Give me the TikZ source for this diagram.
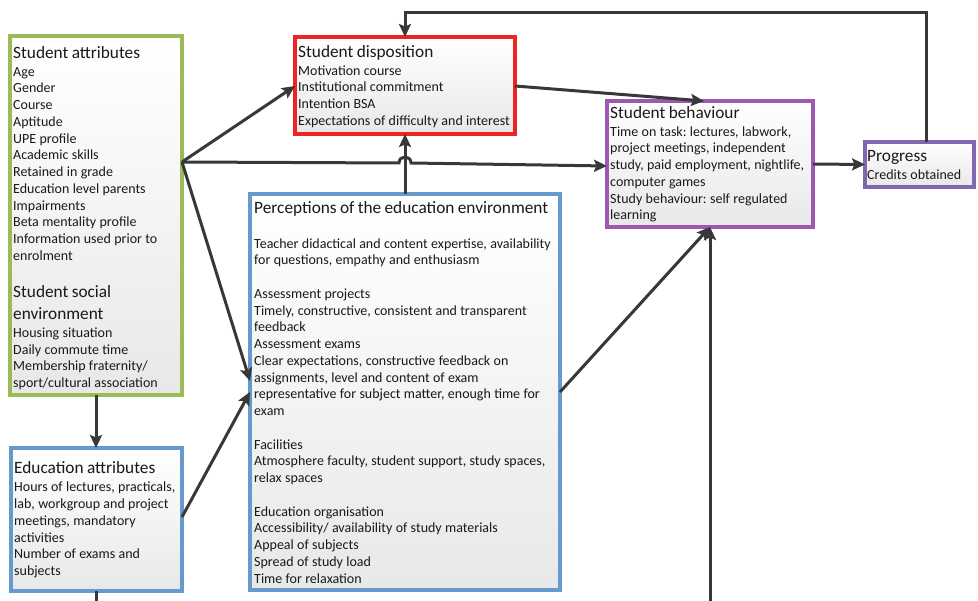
\documentclass[tikz,border=0pt]{standalone}
\usepackage{fontspec}
\setmainfont{Carlito}
\usetikzlibrary{arrows.meta,shadows,calc}

\definecolor{linegray}{HTML}{383838}
\definecolor{bxgreen}{HTML}{9BBB59}
\definecolor{bxred}{HTML}{EE2424}
\definecolor{bxpurple}{HTML}{9E58B4}
\definecolor{bxviolet}{HTML}{8068B0}
\definecolor{bxblue}{HTML}{6699CC}

\newcommand{\ttl}{\fontsize{17.3}{22}\selectfont}
\newcommand{\bdy}{\fontsize{14}{16.75}\selectfont}
\newcommand{\topstrut}{\rule{0pt}{14pt}}

\tikzset{
  panel/.style={draw=#1, line width=3.4pt, rectangle, anchor=north west,
    inner sep=0pt, outer sep=0pt, top color=white, bottom color=black!9,
    drop shadow={opacity=0.18, shadow xshift=1.5pt, shadow yshift=-1.5pt}},
  label/.style={anchor=north west, inner sep=0pt, align=left,
    text width=#1, text=black!90, execute at begin node=\frenchspacing},
  conn/.style={draw=linegray, line width=3pt,
    -{Stealth[length=13pt,width=12pt,inset=2.5pt]}},
  plain/.style={draw=linegray, line width=3pt},
}

\begin{document}
\begin{tikzpicture}[x=1pt,y=-1pt]
\useasboundingbox (0,0) rectangle (978,601);

% boxes
\node[panel=bxgreen,  minimum width=172pt, minimum height=359pt] (attr)   at (10,36)  {};
\node[panel=bxred,    minimum width=220pt, minimum height=97pt]  (disp)   at (295,37) {};
\node[panel=bxpurple, minimum width=206pt, minimum height=126pt] (behav)  at (607,101) {};
\node[panel=bxviolet, minimum width=109pt, minimum height=45pt]  (prog)   at (865,142) {};
\node[panel=bxblue,   minimum width=171pt, minimum height=143pt] (eduatt) at (11,448) {};
\node[panel=bxblue,   minimum width=310pt, minimum height=396pt] (perc)   at (250,194) {};

% box texts
\node[label=200pt] (attrtxt) at (13,44) {%
  {\ttl\topstrut Student attributes\par}\vspace{1.2pt}
  {\bdy Age\\Gender\\Course\\Aptitude\\UPE profile\\Academic skills\\Retained in grade\\
   Education level parents\\Impairments\\Beta mentality profile\\
   Information used prior to\\enrolment\par}\vspace{15pt}
  {\ttl Student social\\environment\par}\vspace{1.2pt}
  {\bdy Housing situation\\Daily commute time\\Membership fraternity/\\
   sport/cultural association\par}};

\node[label=240pt] (disptxt) at (298,43) {%
  {\ttl\topstrut Student disposition\par}\vspace{1.2pt}
  {\bdy Motivation course\\Institutional commitment\\Intention BSA\\
   Expectations of difficulty and interest\par}};

\node[label=230pt] (behavtxt) at (610,104) {%
  {\ttl\topstrut Student behaviour\par}\vspace{1.2pt}
  {\bdy Time on task: lectures, labwork,\\project meetings, independent\\
   study, paid employment, nightlife,\\computer games\\
   Study behaviour: self regulated\\learning\par}};

\node[label=130pt] (progtxt) at (867,147) {%
  {\ttl\topstrut Progress\par}\vspace{1.2pt}
  {\bdy Credits obtained\par}};

\node[label=200pt] (eduatttxt) at (14,459) {%
  {\ttl\topstrut Education attributes\par}\vspace{2pt}
  {\bdy Hours of lectures, practicals,\\lab, workgroup and project\\
   meetings, mandatory\\activities\\Number of exams and\\subjects\par}};

\node[label=340pt] (perctxt) at (254,199) {%
  {\ttl\topstrut Perceptions of the education environment\par}\vspace{18.2pt}
  {\bdy Teacher didactical and content expertise, availability\\
   for questions, empathy and enthusiasm\\[16.75pt]
   Assessment projects\\Timely, constructive, consistent and transparent\\feedback\\
   Assessment exams\\Clear expectations, constructive feedback on\\
   assignments, level and content of exam\\
   representative for subject matter, enough time for\\exam\\[16.75pt]
   Facilities\\Atmosphere faculty, student support, study spaces,\\relax spaces\\[16.75pt]
   Education organisation\\Accessibility/ availability of study materials\\
   Appeal of subjects\\Spread of study load\\Time for relaxation\par}};

% helper points
\coordinate (hub) at ([yshift=-126pt]attr.north east);
\coordinate (hop) at (perc.north |- 0,163);
\coordinate (fbR) at (926,13);
\coordinate (fbL) at (disp.north |- fbR);
\coordinate (bottomedge) at (0,601);

% connectors
\draw[conn] (hub) -- ([yshift=-49pt]disp.north west);
\draw[conn] (hub) -- ($(hop)+(-6,0)$)
  .. controls +(0,-8) and +(0,-8) .. ($(hop)+(6,0)$)
  -- ([yshift=-65pt]behav.north west);
\draw[conn] (hub) -- ([yshift=-187pt]perc.north west);
\draw[conn] ([yshift=-69pt]eduatt.north east) -- ([yshift=-198pt]perc.north west);
\draw[conn] (attr.south) -- (attr.south |- eduatt.north);
\draw[plain] (eduatt.south) -- (eduatt.south |- bottomedge);
\draw[conn] (perc.north) -- (disp.south);
\draw[conn] ([yshift=-49pt]disp.north east) -- ([xshift=97pt]behav.north west);
\draw[conn] ([yshift=-198pt]perc.north east) -- (behav.south);
\draw[conn] (behav.south |- bottomedge) -- (behav.south);
\draw[conn] (behav.east) -- (prog.west);
\draw[conn] (prog.north -| fbR) |- (fbL) -- (disp.north);

\end{tikzpicture}
\end{document}
